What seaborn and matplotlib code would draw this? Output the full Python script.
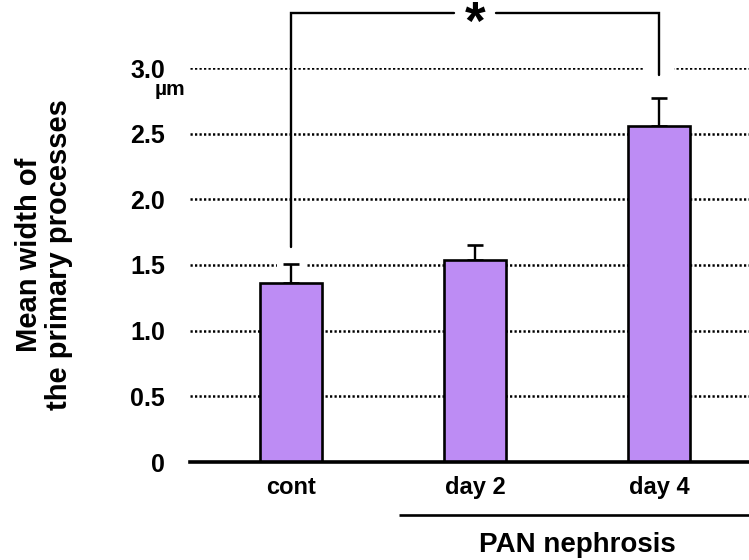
import matplotlib
matplotlib.use("Agg")
import matplotlib.pyplot as plt
import matplotlib.transforms as mtransforms
import seaborn as sns
import pandas as pd

# Mean width of the primary processes (µm) with SEM
groups = ["cont", "day 2", "day 4"]
mean_width = [1.36, 1.54, 2.56]
sem_width = [0.145, 0.11, 0.215]
y_ticks = [0, 0.5, 1.0, 1.5, 2.0, 2.5, 3.0]
y_tick_labels = ["0", "0.5", "1.0", "1.5", "2.0", "2.5", "3.0"]

sns.set_theme(style="white")
plt.rcParams["font.family"] = ["Liberation Sans", "DejaVu Sans"]
plt.rcParams["font.weight"] = "bold"
for key in ["text.color", "axes.labelcolor", "xtick.color", "ytick.color"]:
    plt.rcParams[key] = "black"

df = pd.DataFrame({"group": groups, "width": mean_width})

fig = plt.figure(figsize=(7.49, 5.6), dpi=100)
ax = fig.add_axes([190 / 749, 98 / 560, 559 / 749, 394 / 560])

# dotted reference lines
for t in y_ticks[1:]:
    ax.axhline(t, color="black", lw=1.8, ls=(0, (0.9, 0.9)), zorder=1)

sns.barplot(data=df, x="group", y="width", color="#bd8cf4", edgecolor="black",
            linewidth=1.9, width=0.337, saturation=1, ax=ax, zorder=3)

x = list(range(len(groups)))

# bracket heights for the significance marker
y_br = 3.42
y_left = 1.64
y_right = 2.95
gap = 0.115

# white clearance behind vertical strokes
ax.plot([0, 0], [mean_width[0], y_left], color="white", lw=21, zorder=2,
        solid_capstyle="butt", clip_on=False)
ax.plot([2, 2], [y_right - 0.1, y_br], color="white", lw=21, zorder=2,
        solid_capstyle="butt", clip_on=False)

ax.errorbar(x, mean_width, yerr=[[0] * 3, sem_width], fmt="none", ecolor="black",
            elinewidth=1.7, capsize=5.5, capthick=1.9, zorder=2.5)

ax.plot([1 - gap, 0, 0], [y_br, y_br, y_left], color="black", lw=1.7,
        zorder=4, clip_on=False, solid_joinstyle="miter")
ax.plot([1 + gap, 2, 2], [y_br, y_br, y_right], color="black", lw=1.7,
        zorder=4, clip_on=False, solid_joinstyle="miter")
ax.text(1.0, 3.22, "*", ha="center", va="baseline", fontsize=38, fontweight="bold",
        zorder=5, clip_on=False)

ax.set_xlim(-0.549, 2.489)
ax.set_ylim(0, 3.0)
ax.set_yticks(y_ticks)
ax.set_yticklabels(y_tick_labels, fontsize=18, fontweight="bold")
ax.tick_params(axis="y", length=0, pad=18)
ax.tick_params(axis="x", length=0, pad=10, labelsize=17)
for lab in ax.get_xticklabels():
    lab.set_fontweight("bold")
ax.set_xlabel("")
ax.set_ylabel("")

for side in ["top", "right", "left"]:
    ax.spines[side].set_visible(False)
ax.spines["bottom"].set_linewidth(2.6)
ax.spines["bottom"].set_color("black")
ax.spines["bottom"].set_zorder(6)

# unit label beneath the top tick
ax.text(-0.036, 2.84, "µm",
        transform=mtransforms.blended_transform_factory(ax.transAxes, ax.transData),
        ha="center", va="center", fontsize=15, fontweight="bold", clip_on=False)

# group bracket for PAN nephrosis
trans = mtransforms.blended_transform_factory(ax.transData, ax.transAxes)
ax.plot([0.587, 2.489], [-0.1345, -0.1345], color="black", lw=1.9, transform=trans,
        clip_on=False, solid_capstyle="butt")
ax.text(1.554, -0.211, "PAN nephrosis", transform=trans, ha="center", va="center",
        fontsize=20, fontweight="bold", clip_on=False)

fig.text(44 / 749, 1 - 255 / 560, "Mean width of\nthe primary processes",
         rotation=90, ha="center", va="center", fontsize=21, fontweight="bold",
         linespacing=1.05)

fig.savefig("out.png", dpi=100)
